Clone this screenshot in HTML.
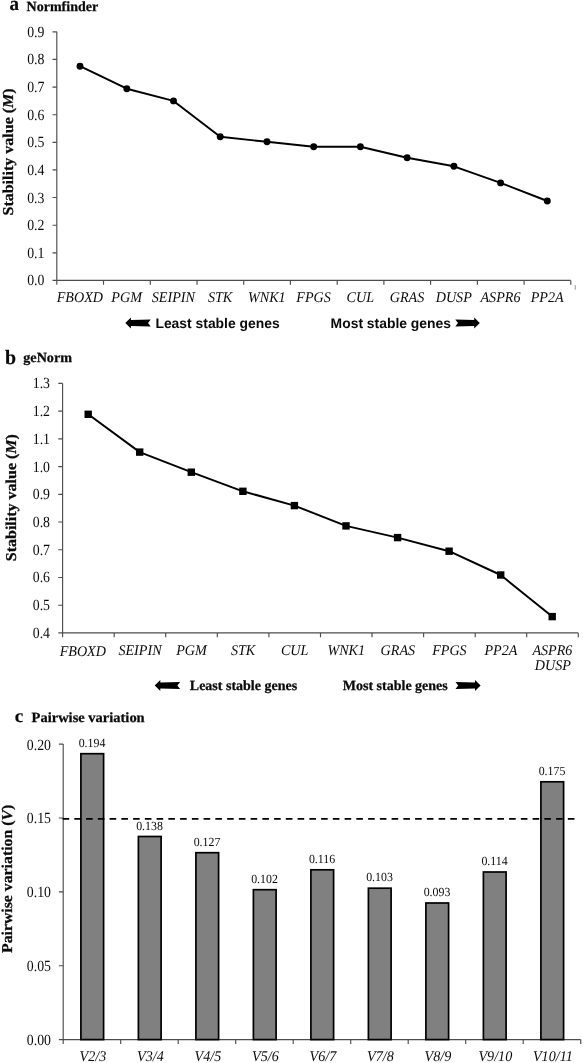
<!DOCTYPE html>
<html><head><meta charset="utf-8"><title>Figure</title>
<style>
html,body{margin:0;padding:0;background:#fff;}
body{width:583px;height:1063px;overflow:hidden;font-family:"Liberation Serif",serif;}
svg{display:block;filter:grayscale(1);}
text{font-family:"Liberation Serif",serif;fill:#0a0a0a;text-rendering:geometricPrecision;}
.tk{font-size:15.6px;}
.cat{font-size:14.8px;font-style:italic;}
.ttl{font-size:14px;font-weight:bold;stroke:#0a0a0a;stroke-width:0.25px;}
.yt{font-size:15.1px;font-weight:bold;stroke:#0a0a0a;stroke-width:0.25px;}
.let{font-size:21px;font-weight:bold;stroke:#0a0a0a;stroke-width:0.2px;}
.sans{font-family:"Liberation Sans",sans-serif;font-weight:bold;font-size:14.0px;}
.val{font-size:12.4px;}
.ax{stroke:#4d4d4d;stroke-width:1.15;fill:none;}
</style></head><body>
<svg width="583" height="1063" viewBox="0 0 583 1063">
<rect width="583" height="1063" fill="#fff"/>

<text transform="translate(9.4 10.2) scale(0.975 1)" class="let" style="font-size:19.6px">a</text>
<text class="ttl" transform="translate(26.60 10.60)">Normfinder</text>
<path class="ax" d="M56.8 31.8 V280.4 H570.7"/>
<path class="ax" d="M56.8 280.4 h-4.3M56.8 252.8 h-4.3M56.8 225.2 h-4.3M56.8 197.5 h-4.3M56.8 169.9 h-4.3M56.8 142.3 h-4.3M56.8 114.7 h-4.3M56.8 87.1 h-4.3M56.8 59.4 h-4.3M56.8 31.8 h-4.3M56.8 280.4 v4.4M103.5 280.4 v4.4M150.3 280.4 v4.4M197.0 280.4 v4.4M243.7 280.4 v4.4M290.4 280.4 v4.4M337.2 280.4 v4.4M383.9 280.4 v4.4M430.6 280.4 v4.4M477.4 280.4 v4.4M524.1 280.4 v4.4M570.8 280.4 v4.4"/>
<text class="tk" transform="translate(44.40 285.40) scale(0.885 1)" text-anchor="end">0.0</text>
<text class="tk" transform="translate(44.40 257.78) scale(0.885 1)" text-anchor="end">0.1</text>
<text class="tk" transform="translate(44.40 230.16) scale(0.885 1)" text-anchor="end">0.2</text>
<text class="tk" transform="translate(44.40 202.54) scale(0.885 1)" text-anchor="end">0.3</text>
<text class="tk" transform="translate(44.40 174.92) scale(0.885 1)" text-anchor="end">0.4</text>
<text class="tk" transform="translate(44.40 147.30) scale(0.885 1)" text-anchor="end">0.5</text>
<text class="tk" transform="translate(44.40 119.68) scale(0.885 1)" text-anchor="end">0.6</text>
<text class="tk" transform="translate(44.40 92.06) scale(0.885 1)" text-anchor="end">0.7</text>
<text class="tk" transform="translate(44.40 64.44) scale(0.885 1)" text-anchor="end">0.8</text>
<text class="tk" transform="translate(44.40 36.82) scale(0.885 1)" text-anchor="end">0.9</text>
<path class="ax" d="M575.3 285v4.8" stroke-opacity="0.5"/>
<polyline fill="none" stroke="#000" stroke-width="1.95" stroke-linejoin="round" points="80.0,66.2 126.8,88.7 173.5,100.9 220.2,136.8 267.0,141.8 313.7,146.8 360.4,146.8 407.1,157.8 453.9,166.3 500.6,182.9 547.3,201.0"/>
<circle cx="80.0" cy="66.2" r="3.45" fill="#000"/>
<circle cx="126.8" cy="88.7" r="3.45" fill="#000"/>
<circle cx="173.5" cy="100.9" r="3.45" fill="#000"/>
<circle cx="220.2" cy="136.8" r="3.45" fill="#000"/>
<circle cx="267.0" cy="141.8" r="3.45" fill="#000"/>
<circle cx="313.7" cy="146.8" r="3.45" fill="#000"/>
<circle cx="360.4" cy="146.8" r="3.45" fill="#000"/>
<circle cx="407.1" cy="157.8" r="3.45" fill="#000"/>
<circle cx="453.9" cy="166.3" r="3.45" fill="#000"/>
<circle cx="500.6" cy="182.9" r="3.45" fill="#000"/>
<circle cx="547.3" cy="201.0" r="3.45" fill="#000"/>
<text class="cat" transform="translate(79.90 301.80) scale(0.955 1)" text-anchor="middle">FBOXD</text>
<text class="cat" transform="translate(126.63 301.80) scale(0.955 1)" text-anchor="middle">PGM</text>
<text class="cat" transform="translate(173.36 301.80) scale(0.955 1)" text-anchor="middle">SEIPIN</text>
<text class="cat" transform="translate(220.09 301.80) scale(0.955 1)" text-anchor="middle">STK</text>
<text class="cat" transform="translate(266.82 301.80) scale(0.955 1)" text-anchor="middle">WNK1</text>
<text class="cat" transform="translate(313.55 301.80) scale(0.955 1)" text-anchor="middle">FPGS</text>
<text class="cat" transform="translate(360.28 301.80) scale(0.955 1)" text-anchor="middle">CUL</text>
<text class="cat" transform="translate(407.01 301.80) scale(0.955 1)" text-anchor="middle">GRAS</text>
<text class="cat" transform="translate(453.74 301.80) scale(0.955 1)" text-anchor="middle">DUSP</text>
<text class="cat" transform="translate(500.47 301.80) scale(0.955 1)" text-anchor="middle">ASPR6</text>
<text class="cat" transform="translate(547.20 301.80) scale(0.955 1)" text-anchor="middle">PP2A</text>
<text class="yt" transform="translate(12.80 215.50) rotate(-90) scale(1.060 1)">Stability value (<tspan font-style="italic">M</tspan>)</text>
<path d="M125.3 323.0 L130.9 317.5 L130.9 320.1 L150.7 319.6 L148.0 323.0 L150.7 326.4 L130.9 325.9 L130.9 328.5 Z" fill="#000"/>
<text class="sans" transform="translate(155.40 327.70) scale(0.992 1)">Least stable genes</text>
<text class="sans" transform="translate(330.60 327.70) scale(0.992 1)">Most stable genes</text>
<path d="M479.8 323.0 L474.2 317.5 L474.2 320.1 L455.3 319.6 L458.0 323.0 L455.3 326.4 L474.2 325.9 L474.2 328.5 Z" fill="#000"/>
<text transform="translate(4.9 363.9) scale(0.98 1)" class="let" style="font-size:20.3px">b</text>
<text class="ttl" transform="translate(23.30 361.60) scale(1.010 1)">geNorm</text>
<path class="ax" d="M62.6 383.4 V632.9 H578.3"/>
<path class="ax" d="M62.6 632.9 h-4.3M62.6 605.2 h-4.3M62.6 577.5 h-4.3M62.6 549.7 h-4.3M62.6 522.0 h-4.3M62.6 494.3 h-4.3M62.6 466.6 h-4.3M62.6 438.9 h-4.3M62.6 411.1 h-4.3M62.6 383.4 h-4.3M62.6 632.9 v4.4M114.2 632.9 v4.4M165.7 632.9 v4.4M217.3 632.9 v4.4M268.9 632.9 v4.4M320.5 632.9 v4.4M372.0 632.9 v4.4M423.6 632.9 v4.4M475.2 632.9 v4.4M526.7 632.9 v4.4M578.3 632.9 v4.4"/>
<text class="tk" transform="translate(50.00 637.90) scale(0.885 1)" text-anchor="end">0.4</text>
<text class="tk" transform="translate(50.00 610.18) scale(0.885 1)" text-anchor="end">0.5</text>
<text class="tk" transform="translate(50.00 582.46) scale(0.885 1)" text-anchor="end">0.6</text>
<text class="tk" transform="translate(50.00 554.74) scale(0.885 1)" text-anchor="end">0.7</text>
<text class="tk" transform="translate(50.00 527.02) scale(0.885 1)" text-anchor="end">0.8</text>
<text class="tk" transform="translate(50.00 499.30) scale(0.885 1)" text-anchor="end">0.9</text>
<text class="tk" transform="translate(50.00 471.58) scale(0.885 1)" text-anchor="end">1.0</text>
<text class="tk" transform="translate(50.00 443.86) scale(0.885 1)" text-anchor="end">1.1</text>
<text class="tk" transform="translate(50.00 416.14) scale(0.885 1)" text-anchor="end">1.2</text>
<text class="tk" transform="translate(50.00 388.42) scale(0.885 1)" text-anchor="end">1.3</text>
<polyline fill="none" stroke="#000" stroke-width="1.95" stroke-linejoin="round" points="88.2,414.3 139.7,452.1 191.3,472.2 242.9,491.3 294.4,505.6 346.0,525.9 397.6,537.6 449.1,551.2 500.7,575.0 552.2,616.6"/>
<rect x="84.5" y="410.6" width="7.4" height="7.4" fill="#000"/>
<rect x="136.0" y="448.4" width="7.4" height="7.4" fill="#000"/>
<rect x="187.6" y="468.5" width="7.4" height="7.4" fill="#000"/>
<rect x="239.2" y="487.6" width="7.4" height="7.4" fill="#000"/>
<rect x="290.7" y="501.9" width="7.4" height="7.4" fill="#000"/>
<rect x="342.3" y="522.2" width="7.4" height="7.4" fill="#000"/>
<rect x="393.9" y="533.9" width="7.4" height="7.4" fill="#000"/>
<rect x="445.4" y="547.5" width="7.4" height="7.4" fill="#000"/>
<rect x="497.0" y="571.3" width="7.4" height="7.4" fill="#000"/>
<rect x="548.5" y="612.9" width="7.4" height="7.4" fill="#000"/>
<text class="cat" transform="translate(82.80 656.20) scale(0.955 1)" text-anchor="middle">FBOXD</text>
<text class="cat" transform="translate(139.97 654.60) scale(0.955 1)" text-anchor="middle">SEIPIN</text>
<text class="cat" transform="translate(191.54 654.60) scale(0.955 1)" text-anchor="middle">PGM</text>
<text class="cat" transform="translate(243.11 654.60) scale(0.955 1)" text-anchor="middle">STK</text>
<text class="cat" transform="translate(294.68 654.60) scale(0.955 1)" text-anchor="middle">CUL</text>
<text class="cat" transform="translate(346.25 654.60) scale(0.955 1)" text-anchor="middle">WNK1</text>
<text class="cat" transform="translate(397.82 654.60) scale(0.955 1)" text-anchor="middle">GRAS</text>
<text class="cat" transform="translate(449.39 654.60) scale(0.955 1)" text-anchor="middle">FPGS</text>
<text class="cat" transform="translate(500.96 654.60) scale(0.955 1)" text-anchor="middle">PP2A</text>
<text class="cat" transform="translate(552.40 654.50) scale(0.955 1)" text-anchor="middle">ASPR6</text>
<text class="cat" transform="translate(552.80 670.00) scale(0.955 1)" text-anchor="middle">DUSP</text>
<text class="yt" transform="translate(15.80 561.20) rotate(-90) scale(1.060 1)">Stability value (<tspan font-style="italic">M</tspan>)</text>
<path d="M154.7 685.5 L160.3 680.0 L160.3 682.6 L180.1 682.1 L177.4 685.5 L180.1 688.9 L160.3 688.4 L160.3 691.0 Z" fill="#000"/>
<text class="ttl" transform="translate(189.80 690.40)">Least stable genes</text>
<text class="ttl" transform="translate(342.80 690.40)">Most stable genes</text>
<path d="M480.6 685.5 L475.0 680.0 L475.0 682.6 L455.5 682.1 L458.2 685.5 L455.5 688.9 L475.0 688.4 L475.0 691.0 Z" fill="#000"/>
<text transform="translate(14.7 722.3) scale(1.03 1)" class="let" style="font-size:18.6px">c</text>
<text class="ttl" transform="translate(31.60 722.20) scale(1.035 1)">Pairwise variation</text>
<path class="ax" d="M63.2 744.1 V1039.6 H580.7"/>
<path class="ax" d="M63.2 1039.6 h-4.3M63.2 965.7 h-4.3M63.2 891.8 h-4.3M63.2 818.0 h-4.3M63.2 744.1 h-4.3M63.2 1039.6 v4.4M120.7 1039.6 v4.4M178.2 1039.6 v4.4M235.7 1039.6 v4.4M293.2 1039.6 v4.4M350.7 1039.6 v4.4M408.2 1039.6 v4.4M465.7 1039.6 v4.4M523.2 1039.6 v4.4M580.7 1039.6 v4.4"/>
<text class="tk" transform="translate(51.00 1045.10) scale(0.885 1)" text-anchor="end">0.00</text>
<text class="tk" transform="translate(51.00 971.22) scale(0.885 1)" text-anchor="end">0.05</text>
<text class="tk" transform="translate(51.00 897.34) scale(0.885 1)" text-anchor="end">0.10</text>
<text class="tk" transform="translate(51.00 823.46) scale(0.885 1)" text-anchor="end">0.15</text>
<text class="tk" transform="translate(51.00 749.58) scale(0.885 1)" text-anchor="end">0.20</text>
<rect x="80.90" y="753.7" width="22.7" height="285.9" fill="#808080" stroke="#000" stroke-width="1.7"/>
<text class="val" transform="translate(92.05 746.95) scale(0.960 1)" text-anchor="middle">0.194</text>
<text class="cat" transform="translate(92.85 1061.20) scale(0.955 1)" text-anchor="middle">V2/3</text>
<rect x="138.40" y="836.5" width="22.7" height="203.1" fill="#808080" stroke="#000" stroke-width="1.7"/>
<text class="val" transform="translate(149.55 829.69) scale(0.960 1)" text-anchor="middle">0.138</text>
<text class="cat" transform="translate(150.35 1061.20) scale(0.955 1)" text-anchor="middle">V3/4</text>
<rect x="195.90" y="852.7" width="22.7" height="186.9" fill="#808080" stroke="#000" stroke-width="1.7"/>
<text class="val" transform="translate(207.05 845.94) scale(0.960 1)" text-anchor="middle">0.127</text>
<text class="cat" transform="translate(207.85 1061.20) scale(0.955 1)" text-anchor="middle">V4/5</text>
<rect x="253.40" y="889.7" width="22.7" height="149.9" fill="#808080" stroke="#000" stroke-width="1.7"/>
<text class="val" transform="translate(264.55 882.88) scale(0.960 1)" text-anchor="middle">0.102</text>
<text class="cat" transform="translate(265.35 1061.20) scale(0.955 1)" text-anchor="middle">V5/6</text>
<rect x="310.90" y="869.8" width="22.7" height="169.8" fill="#808080" stroke="#000" stroke-width="1.7"/>
<text class="val" transform="translate(322.05 863.00) scale(0.960 1)" text-anchor="middle">0.116</text>
<text class="cat" transform="translate(322.85 1061.20) scale(0.955 1)" text-anchor="middle">V6/7</text>
<rect x="368.40" y="888.2" width="22.7" height="151.4" fill="#808080" stroke="#000" stroke-width="1.7"/>
<text class="val" transform="translate(379.55 881.41) scale(0.960 1)" text-anchor="middle">0.103</text>
<text class="cat" transform="translate(380.35 1061.20) scale(0.955 1)" text-anchor="middle">V7/8</text>
<rect x="425.90" y="903.0" width="22.7" height="136.6" fill="#808080" stroke="#000" stroke-width="1.7"/>
<text class="val" transform="translate(437.05 896.18) scale(0.960 1)" text-anchor="middle">0.093</text>
<text class="cat" transform="translate(437.85 1061.20) scale(0.955 1)" text-anchor="middle">V8/9</text>
<rect x="483.40" y="872.0" width="22.7" height="167.6" fill="#808080" stroke="#000" stroke-width="1.7"/>
<text class="val" transform="translate(494.55 865.15) scale(0.960 1)" text-anchor="middle">0.114</text>
<text class="cat" transform="translate(495.35 1061.20) scale(0.955 1)" text-anchor="middle">V9/10</text>
<rect x="540.90" y="781.8" width="22.7" height="257.8" fill="#808080" stroke="#000" stroke-width="1.7"/>
<text class="val" transform="translate(552.05 775.02) scale(0.960 1)" text-anchor="middle">0.175</text>
<text class="cat" transform="translate(552.85 1061.20) scale(0.955 1)" text-anchor="middle">V10/11</text>
<path d="M62.6 818.9H574.6" stroke="#000" stroke-width="1.75" stroke-dasharray="6.6 5.15" fill="none"/>
<text class="yt" transform="translate(12.30 953.00) rotate(-90) scale(1.046 1)">Pairwise variation (<tspan font-style="italic">V</tspan>)</text>
</svg></body></html>
